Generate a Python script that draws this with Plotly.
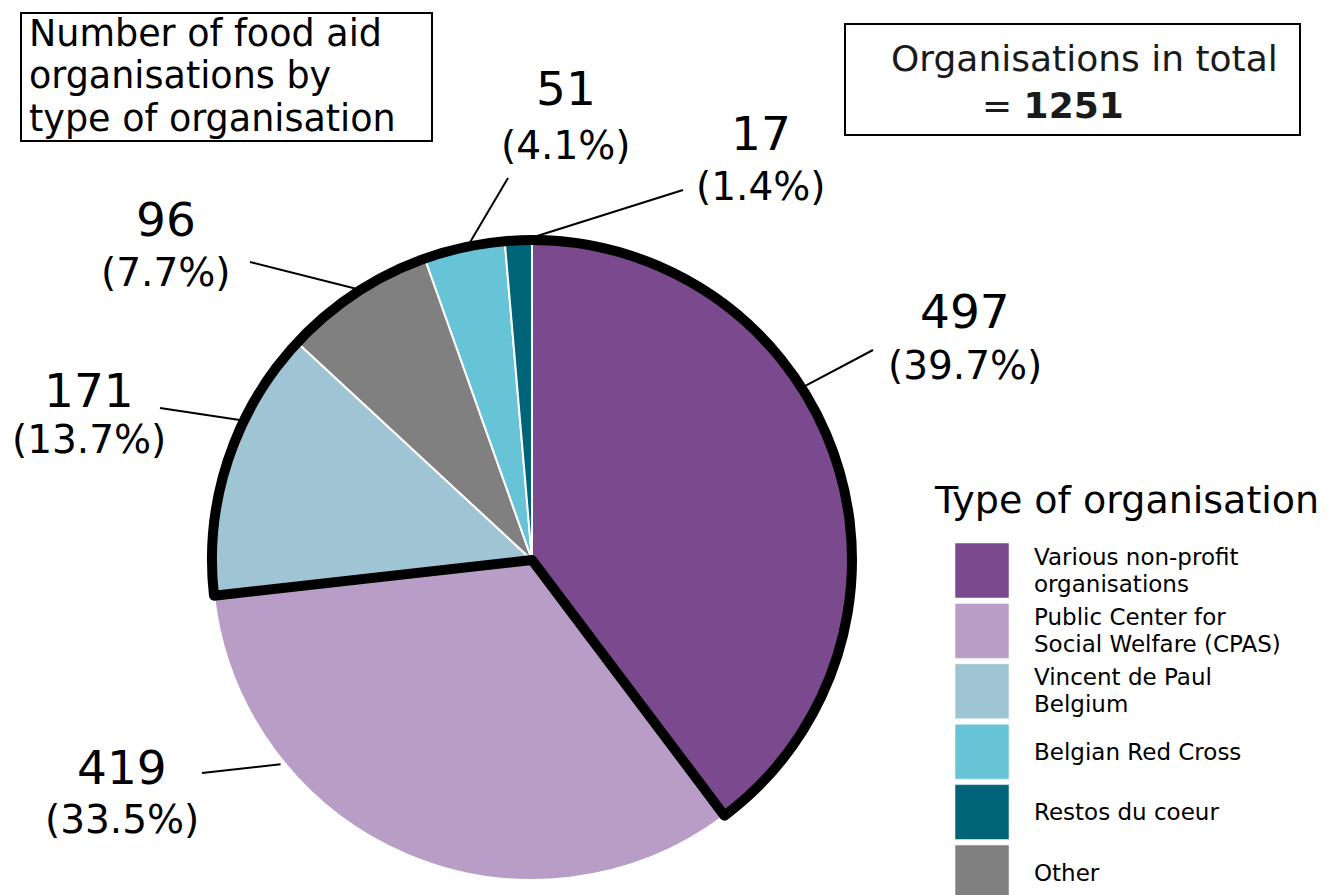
import math
import plotly.graph_objects as go

# ---------------- data ----------------
categories = [
    "Various non-profit organisations",
    "Public Center for Social Welfare (CPAS)",
    "Vincent de Paul Belgium",
    "Other",
    "Belgian Red Cross",
    "Restos du coeur",
]
counts = [497, 419, 171, 96, 51, 17]
colors = ["#7b4a8e", "#b89ec7", "#9fc4d4", "#808080", "#67c4d7", "#006478"]

legend_order = [
    "Various non-profit organisations",
    "Public Center for Social Welfare (CPAS)",
    "Vincent de Paul Belgium",
    "Belgian Red Cross",
    "Restos du coeur",
    "Other",
]
legend_text = {
    "Various non-profit organisations": ["Various non-profit", "organisations"],
    "Public Center for Social Welfare (CPAS)": ["Public Center for", "Social Welfare (CPAS)"],
    "Vincent de Paul Belgium": ["Vincent de Paul", "Belgium"],
    "Belgian Red Cross": ["Belgian Red Cross"],
    "Restos du coeur": ["Restos du coeur"],
    "Other": ["Other"],
}

title_lines = ["Number of food aid", "organisations by", "type of organisation"]
total_label = "Organisations in total"
legend_title = "Type of organisation"

# ---------------- layout helpers ----------------
W, H = 1327, 895
CX, CY, R = 532, 560, 320
FONT = "DejaVu Sans"


def fx(x):
    return x / W


def fy(y):
    return 1 - y / H


total = sum(counts)

# label placement (text centre x, number centre y, percent centre y, leader tail x, tail y, tip angle)
label_layout = {
    "Various non-profit organisations": (965, 311, 365, 873, 350, 57.5),
    "Public Center for Social Welfare (CPAS)": (122, 767, 819, 202, 773, 230.9),
    "Vincent de Paul Belgium": (89, 391, 439, 160, 408, 295.6),
    "Other": (166, 219, 272, 250, 262, 326.9),
    "Belgian Red Cross": (566, 88, 145, 508, 178, 349.0),
    "Restos du coeur": (761, 134, 187, 683, 190, 0.9),
}

fig = go.Figure()

# main pie
fig.add_trace(go.Pie(
    labels=categories,
    values=counts,
    sort=False,
    direction="clockwise",
    rotation=0,
    marker=dict(colors=colors, line=dict(color="white", width=2)),
    textinfo="none",
    showlegend=False,
    hovertemplate="%{label}<br>%{value} (%{percent})<extra></extra>",
    domain=dict(x=[fx(CX - R), fx(CX + R)], y=[fy(CY + R), fy(CY - R)]),
))

# thick outline around every group except CPAS
cpas = counts[1]
rot = 360 * (counts[0] + counts[1]) / total
rot = ((rot + 180) % 360) - 180
fig.add_trace(go.Pie(
    labels=["non-CPAS", "CPAS"],
    values=[total - cpas, cpas],
    sort=False,
    direction="clockwise",
    rotation=rot,
    marker=dict(colors=["rgba(0,0,0,0)", "rgba(0,0,0,0)"],
                line=dict(color="black", width=[10, 0])),
    textinfo="none",
    showlegend=False,
    hoverinfo="skip",
    domain=dict(x=[fx(CX - R), fx(CX + R)], y=[fy(CY + R), fy(CY - R)]),
))

shapes = []
annotations = []


def text(x, y, s, size, xanchor="center", color="black"):
    annotations.append(dict(
        x=fx(x), y=fy(y), xref="paper", yref="paper", text=s,
        showarrow=False, xanchor=xanchor, yanchor="middle", borderpad=0,
        font=dict(family=FONT, size=size, color=color),
    ))


# value labels and leader lines
for cat, val in zip(categories, counts):
    tx, ny, py_, lx, ly, ang = label_layout[cat]
    pct = 100 * val / total
    text(tx, ny, f"{val}", 47)
    text(tx, py_, f"({pct:.1f}%)", 39)
    a = math.radians(ang)
    rt = R + 4
    tipx = CX + rt * math.sin(a)
    tipy = CY - rt * math.cos(a)
    shapes.append(dict(type="line", xref="paper", yref="paper",
                       x0=fx(lx), y0=fy(ly), x1=fx(tipx), y1=fy(tipy),
                       line=dict(color="black", width=2)))

# title box
shapes.append(dict(type="rect", xref="paper", yref="paper",
                   x0=fx(21), y0=fy(141), x1=fx(432), y1=fy(13),
                   line=dict(color="black", width=2)))
for i, ln in enumerate(title_lines):
    text(28, 33 + 42.6 * i, ln, 36.5, xanchor="left")

# total box
shapes.append(dict(type="rect", xref="paper", yref="paper",
                   x0=fx(845), y0=fy(135), x1=fx(1300), y1=fy(24),
                   line=dict(color="black", width=2)))
text(890, 58, total_label, 36, xanchor="left", color="#1a1a1a")
text(981, 106, f"= <b>{total}</b>", 36, xanchor="left", color="#1a1a1a")

# manual legend
text(933, 500, legend_title, 38, xanchor="left")
col_of = dict(zip(categories, colors))
top0, pitch, bh = 543, 60.4, 55
for i, cat in enumerate(legend_order):
    t = top0 + pitch * i
    shapes.append(dict(type="rect", xref="paper", yref="paper",
                       x0=fx(955), y0=fy(t + bh), x1=fx(1009), y1=fy(t),
                       fillcolor=col_of[cat], line=dict(color="rgba(255,255,255,0.5)", width=1)))
    mid = t + bh / 2
    lines = legend_text[cat]
    if len(lines) == 2:
        text(1033, mid - 14, lines[0], 23, xanchor="left")
        text(1033, mid + 13, lines[1], 23, xanchor="left")
    else:
        text(1033, mid, lines[0], 23, xanchor="left")

fig.update_layout(
    width=W, height=H,
    margin=dict(l=0, r=0, t=0, b=0),
    paper_bgcolor="white", plot_bgcolor="white",
    shapes=shapes, annotations=annotations,
    font=dict(family=FONT),
)

fig.write_html("out.html", config={"displayModeBar": False},
               post_script="document.body.style.margin='0px';")
